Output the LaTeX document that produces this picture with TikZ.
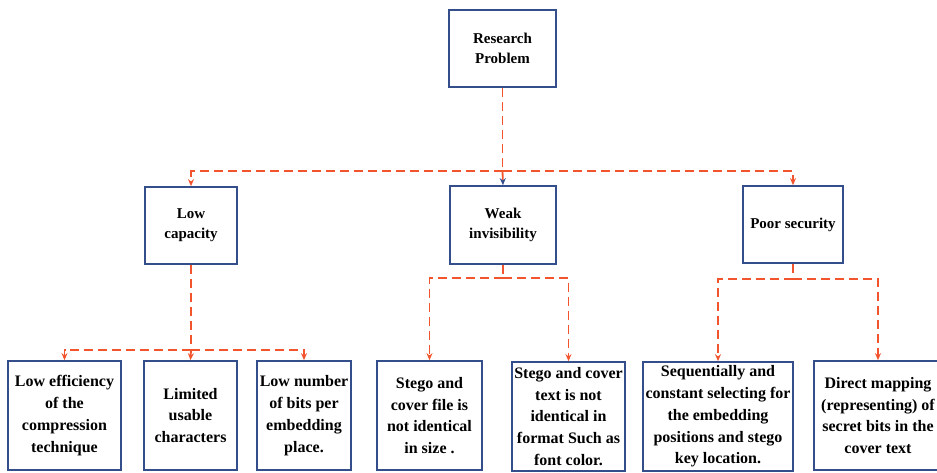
\documentclass[tikz,border=0pt]{standalone}
\usepackage{fontspec}
\setmainfont{Liberation Serif}
\usetikzlibrary{arrows.meta}
\definecolor{boxblue}{RGB}{52,78,140}
\definecolor{linered}{RGB}{242,84,46}
\begin{document}
\begin{tikzpicture}[x=1pt,y=-1pt,
  box/.style={draw=boxblue,line width=1.7pt,fill=white,rectangle,align=center,inner sep=1pt,
    font=\bfseries\fontsize{15}{20}\selectfont},
  lowbox/.style={box,font=\bfseries\fontsize{16}{21.8}\selectfont},
  dl/.style={draw=linered,line width=1.8pt,dash pattern=on 9pt off 5pt},
  dla/.style={dl,-{Stealth[length=7pt,width=6pt,color=linered]}},
  dlb/.style={dl,-{Stealth[length=7pt,width=6pt,color=boxblue]}}]
\useasboundingbox (0,0) rectangle (937,472);
% top
\node[box,minimum width=107pt,minimum height=77pt] (rp) at (502.5,48.5) {Research\\Problem};
% middle
\node[box,minimum width=92pt,minimum height=77pt] (lc) at (191,225.5) {Low\\capacity};
\node[box,minimum width=106pt,minimum height=78pt] (wi) at (503,225) {Weak\\invisibility};
\node[box,minimum width=100pt,minimum height=77pt] (ps) at (793,224.5) {Poor security};
% bottom
\node[lowbox,minimum width=113pt,minimum height=109pt] (b1) at (64.5,415.5) {Low efficiency\\of the\\compression\\technique};
\node[lowbox,minimum width=93pt,minimum height=109pt] (b2) at (190.5,415.5) {Limited\\usable\\characters};
\node[lowbox,minimum width=94pt,minimum height=109pt] (b3) at (304,415.5) {Low number\\of bits per\\embedding\\place.};
\node[lowbox,minimum width=105pt,minimum height=109pt] (b4) at (429.5,415.5) {Stego and\\cover file is\\not identical\\in size .};
\node[lowbox,minimum width=113pt,minimum height=109pt] (b5) at (568.5,416.5) {Stego and cover\\text is not\\identical in\\format Such as\\font color.};
\node[lowbox,minimum width=150pt,minimum height=109pt] (b6) at (718,416.5) {Sequentially and\\constant selecting for\\the embedding\\positions and stego\\key location.};
\node[lowbox,minimum width=128pt,minimum height=109pt] (b7) at (878,415.5) {Direct mapping\\(representing) of\\secret bits in the\\cover text};
% junctions
\coordinate (j1) at (502.5,171);
\coordinate (j2) at (191,350);
\coordinate (j3) at (503,278);
\coordinate (j4) at (793,279);
% connectors
\draw[dl] (rp.south) -- (j1);
\draw[dla] (j1) -| (lc.north);
\draw[dla] (j1) -| (ps.north);
\draw[dlb] (j1) -- (wi.north);
\draw[dl] (lc.south) -- (j2);
\draw[dla] (j2) -| (b1.north);
\draw[dla] (j2) -- (b2.north);
\draw[dla] (j2) -| (b3.north);
\draw[dl] (wi.south) -- (j3);
\draw[dla] (j3) -| (b4.north);
\draw[dla] (j3) -| (b5.north);
\draw[dl] (ps.south) -- (j4);
\draw[dla] (j4) -| (b6.north);
\draw[dla] (j4) -| (b7.north);
\end{tikzpicture}
\end{document}
